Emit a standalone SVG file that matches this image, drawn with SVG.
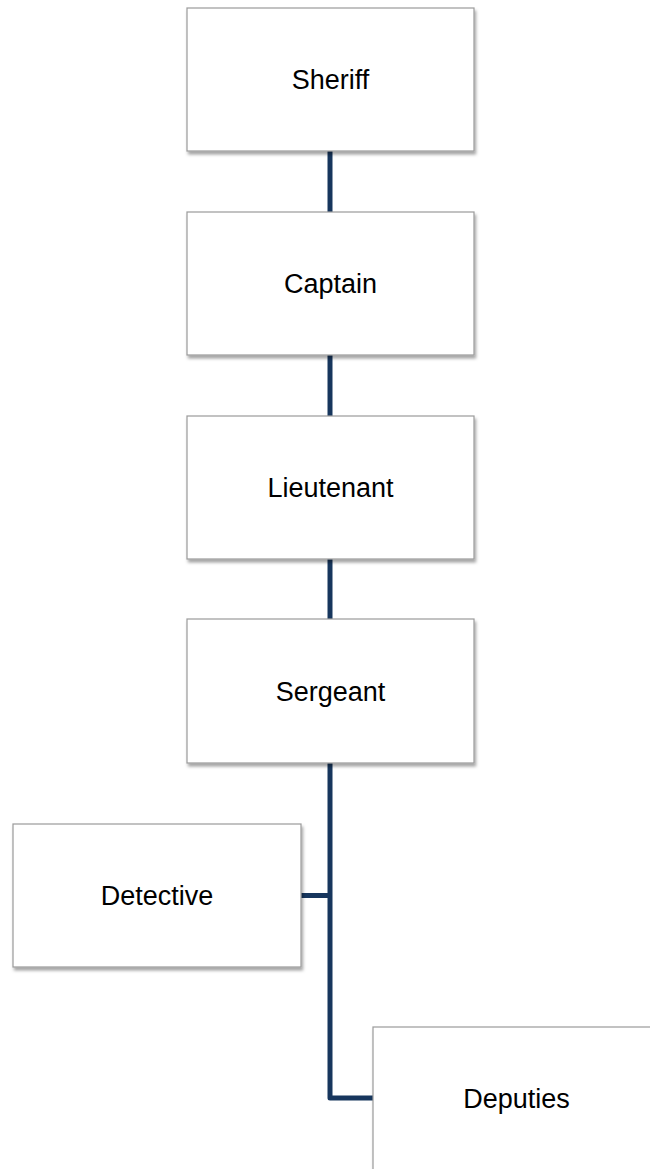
<svg xmlns="http://www.w3.org/2000/svg" width="650" height="1169" viewBox="0 0 650 1169">
<defs>
<filter id="sh" x="-10%" y="-10%" width="130%" height="130%">
<feDropShadow dx="1.5" dy="3" stdDeviation="1.8" flood-color="#000" flood-opacity="0.35"/>
</filter>
</defs>
<style>
.box{fill:#fff;stroke:#9a9a9a;stroke-width:1.2;filter:url(#sh)}
.lbl{font-family:"Liberation Sans",Arial,sans-serif;font-size:27px;fill:#000;text-anchor:middle}
.con{fill:none;stroke:#17365d;stroke-width:5;stroke-linejoin:round}
</style>
<rect width="650" height="1169" fill="#fff"/>
<g id="connectors">
<path class="con" d="M330 151V212"/>
<path class="con" d="M330 355V416"/>
<path class="con" d="M330 559V619"/>
<path class="con" d="M330 763V1098H373"/>
<path class="con" d="M301 895.5H330"/>
</g>
<g id="sheriff"><rect class="box" x="187" y="8" width="287" height="143"/><text class="lbl" x="330.5" y="89">Sheriff</text></g>
<g id="captain"><rect class="box" x="187" y="212" width="287" height="143"/><text class="lbl" x="330.5" y="293">Captain</text></g>
<g id="lieutenant"><rect class="box" x="187" y="416" width="287" height="143"/><text class="lbl" x="330.5" y="497">Lieutenant</text></g>
<g id="sergeant"><rect class="box" x="187" y="619" width="287" height="144"/><text class="lbl" x="330.5" y="700.5">Sergeant</text></g>
<g id="detective"><rect class="box" x="13" y="824" width="288" height="143"/><text class="lbl" x="157" y="905">Detective</text></g>
<g id="deputies"><rect class="box" x="373" y="1027" width="287" height="143"/><text class="lbl" x="516.5" y="1108">Deputies</text></g>
</svg>
